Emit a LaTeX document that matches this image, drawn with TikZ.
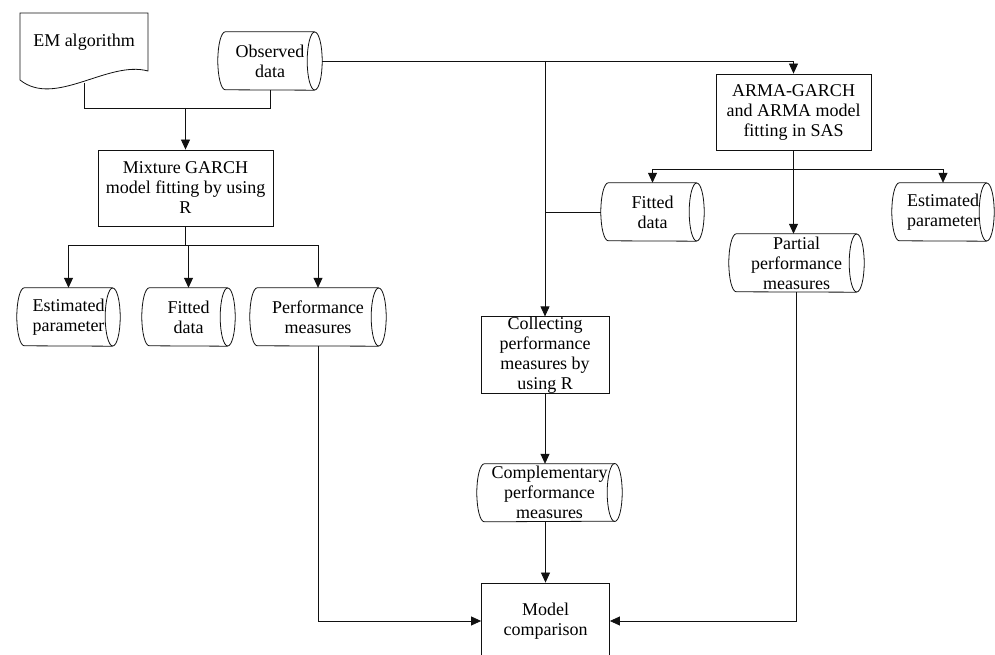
\documentclass[tikz,border=0pt]{standalone}
\usepackage{fontspec}
\setmainfont{Liberation Serif}
\usepackage{tikz}
\usetikzlibrary{calc, positioning, arrows.meta}
\definecolor{lineDark}{HTML}{111111}

\tikzset{
  box/.style={draw=lineDark, line width=0.8pt, rectangle, inner sep=0pt, align=center,
              minimum height=76pt, font=\fontsize{18}{20}\selectfont},
  store/.style={rectangle, inner sep=0pt, align=center, minimum height=58pt,
                font=\fontsize{18}{20}\selectfont},
  arr/.style={-{Triangle[length=10pt,width=9pt]}},
  wire/.style={draw=lineDark, line width=0.8pt}
}

\begin{document}
\begin{tikzpicture}[x=1pt, y=1pt]
  \useasboundingbox (0,0) rectangle (995,655);

  % document shape
  \draw[wire] (20,642) -- (20,575) .. controls (55,547) and (108,595) .. (148,584) -- (148,642) -- cycle;
  \node[font=\fontsize{18}{20}\selectfont] (em) at (84,613) {EM algorithm};
  \coordinate (emfoot) at (84,572);

  \node[store, minimum width=104pt] (obs) at (270,594) {Observed\\data};
  \node[box, minimum width=175pt] (mix) at (185.5,467) {Mixture GARCH\\model fitting by using\\R};
  \node[store, minimum width=103pt] (estL) at (68.5,338) {Estimated\\parameter};
  \node[store, minimum width=93pt] (fitL) at (188.5,338) {Fitted\\data};
  \node[store, minimum width=136pt] (perfL) at (318,338) {Performance\\measures};

  \node[box, minimum width=155pt] (arma) at (793.5,543) {ARMA-GARCH\\and ARMA model\\fitting in SAS};
  \node[store, minimum width=103pt] (fitR) at (652.5,443) {Fitted\\data};
  \node[store, minimum width=102pt] (estR) at (943,443) {Estimated\\parameter};
  \node[store, minimum width=135pt] (part) at (796.5,392) {Partial\\performance\\measures};

  \node[box, minimum width=128pt] (coll) at (545,300) {Collecting\\performance\\measures by\\using R};
  \node[store, minimum width=145pt, minimum height=57pt] (comp) at (549.5,162.5) {Complementary\\performance\\measures};
  \node[box, minimum width=128pt] (model) at (545.5,34) {Model\\comparison};

  \foreach \n in {obs,estL,fitL,perfL,fitR,estR,part,comp}{
    \draw[wire] ([xshift=-7.5pt]\n.north east) -- ([xshift=7.5pt]\n.north west)
      arc[start angle=90, end angle=270, x radius=7.5pt, y radius=29pt]
      -- ([xshift=-7.5pt]\n.south east);
    \draw[wire] ([xshift=-7.5pt]\n.east) ellipse[x radius=7.5pt, y radius=29pt];
  }

  \draw[wire] (emfoot) -- ++(0,-25) coordinate (emjoin) -| (obs.south);
  \draw[wire, arr] (emjoin -| mix.north) -- (mix.north);

  \draw[wire, arr] (obs.east) -| (arma.north);
  \draw[wire, arr] (obs.east -| coll.north) -- (coll.north);
  \draw[wire] (fitR.west) -- (fitR.west -| coll.north);

  \draw[wire] (mix.south) -- ++(0,-19) coordinate (mixsplit);
  \draw[wire, arr] (mixsplit) -| (estL.north);
  \draw[wire, arr] (mixsplit) -| (fitL.north);
  \draw[wire, arr] (mixsplit) -| (perfL.north);

  \draw[wire] (arma.south) -- ++(0,-19) coordinate (armasplit);
  \draw[wire, arr] (armasplit) -| (fitR.north);
  \draw[wire, arr] (armasplit) -| (estR.north);
  \draw[wire, arr] (armasplit) -- (armasplit |- part.north);

  \draw[wire, arr] (part.south) |- (model.east);
  \draw[wire, arr] (perfL.south) |- (model.west);
  \draw[wire, arr] (coll.south) -- (coll.south |- comp.north);
  \draw[wire, arr] (model.north |- comp.south) -- (model.north);
\end{tikzpicture}
\end{document}
